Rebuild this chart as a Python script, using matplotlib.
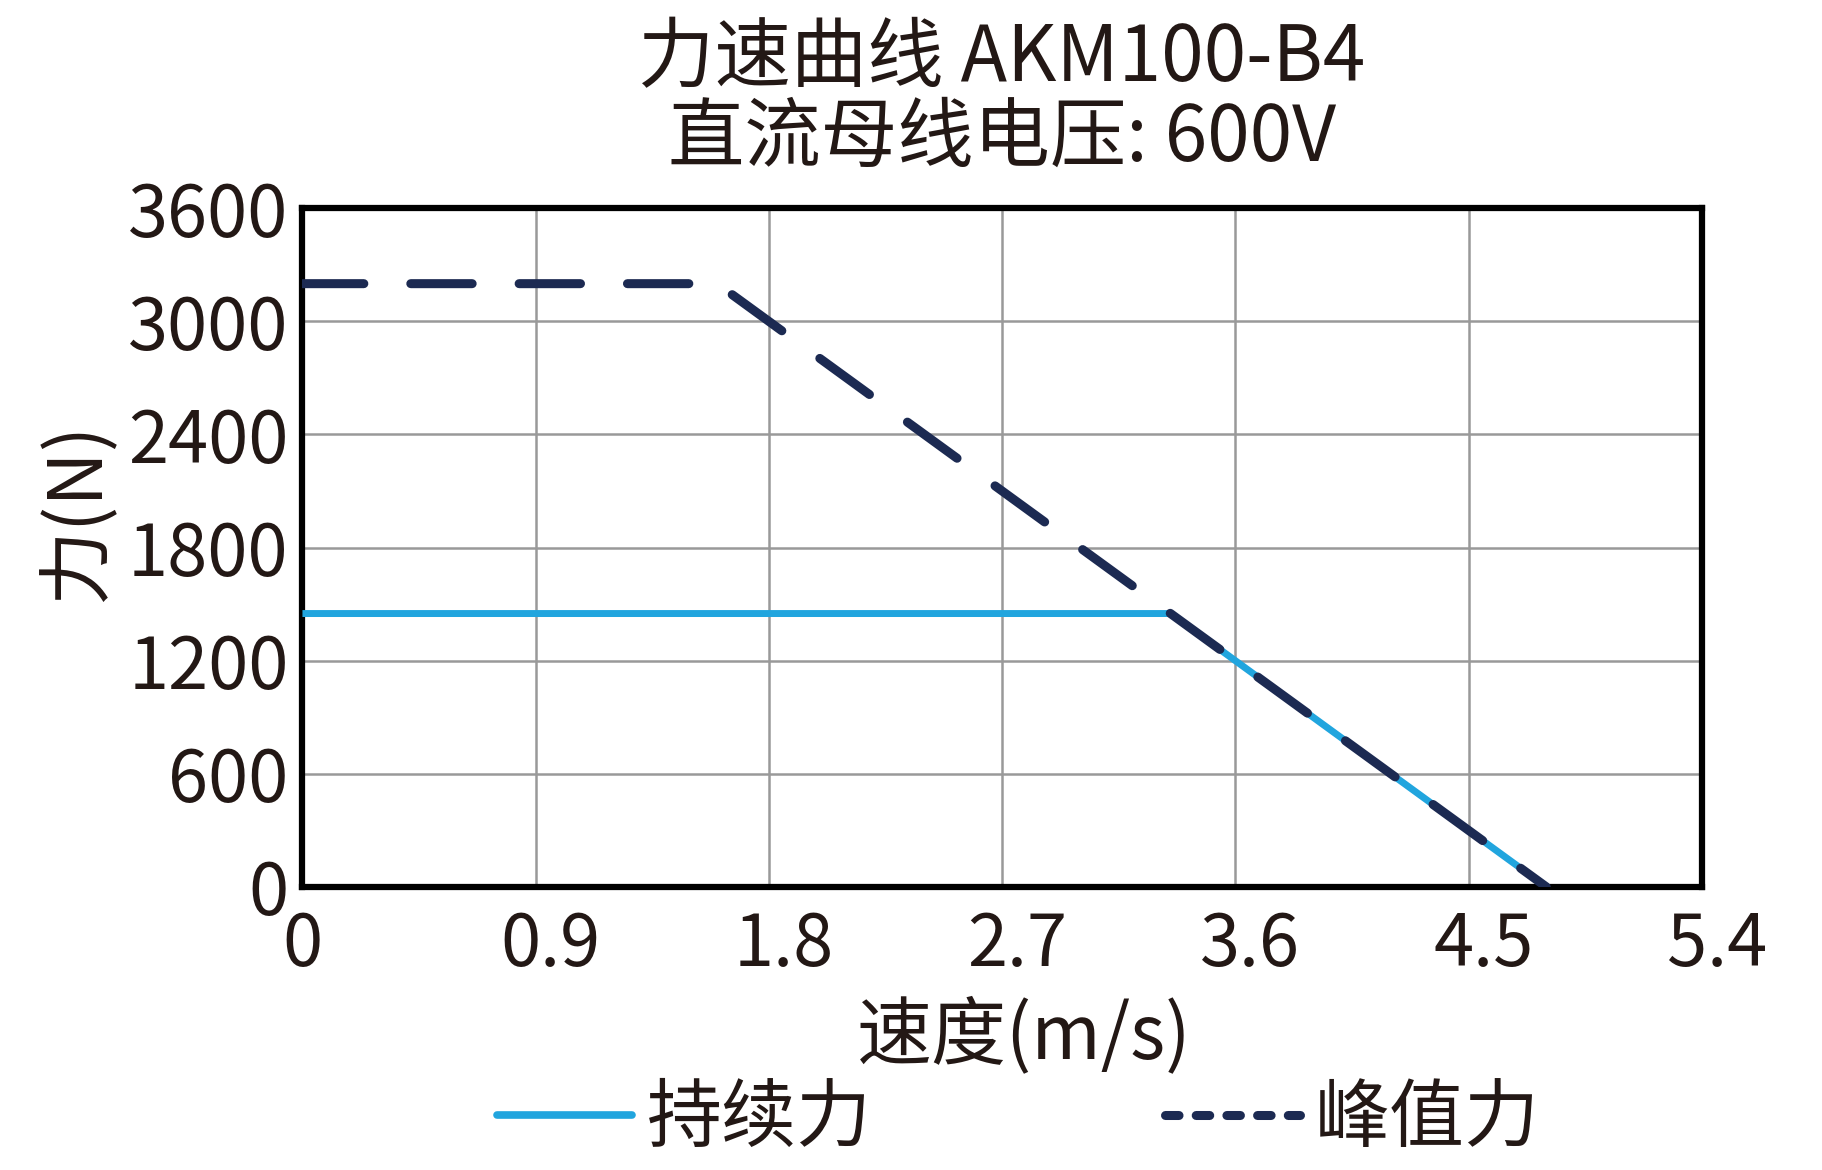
import matplotlib
matplotlib.use("Agg")
import matplotlib.pyplot as plt
import matplotlib.transforms as mtransforms
from matplotlib.lines import Line2D

plt.rcParams['font.family'] = ['Noto Sans CJK SC', 'DejaVu Sans']

# data
cont_speed = [0, 3.35, 4.8]
cont_force = [1450, 1450, 0]
peak_speed = [0, 1.6, 4.8]
peak_force = [3200, 3200, 0]

x_ticks = [0, 0.9, 1.8, 2.7, 3.6, 4.5, 5.4]
y_ticks = [0, 600, 1200, 1800, 2400, 3000, 3600]

title = "力速曲线 AKM100-B4\n直流母线电压: 600V"
cont_label = "持续力"
peak_label = "峰值力"

blue = "#21a5de"
navy = "#1c2a52"
txt = "#231815"

fig = plt.figure(figsize=(18.22, 11.70), dpi=100)
ax = fig.add_axes([0.166, 0.242, 0.768, 0.580])

ax.plot(cont_speed, cont_force, color=blue, lw=5, solid_capstyle='butt', zorder=3)
ax.plot(peak_speed, peak_force, color=navy, lw=6.5, linestyle=(0, (6.8, 5.2)),
        dash_capstyle='round', zorder=4)

ax.set_xlim(0, 5.4)
ax.set_ylim(0, 3600)
ax.set_xticks(x_ticks)
ax.set_yticks(y_ticks)
ax.set_xticklabels([f"{v:g}" for v in x_ticks])
ax.set_yticklabels([str(v) for v in y_ticks])
ax.tick_params(length=0, labelsize=52, colors=txt)
ax.tick_params(axis='x', pad=16)
ax.tick_params(axis='y', pad=10)
# labels in the reference sit a little right of their grid lines
shift = mtransforms.ScaledTranslation(0.15, 0, fig.dpi_scale_trans)
for lbl in ax.get_xticklabels()[1:]:
    lbl.set_transform(lbl.get_transform() + shift)
ax.grid(True, color="#999999", lw=1.8)
ax.set_axisbelow(True)
for s in ax.spines.values():
    s.set_linewidth(4.5)
    s.set_color("black")

ax.set_xlabel("速度(m/s)", fontsize=54, color=txt)
ax.xaxis.set_label_coords(0.516, -0.163)
ax.set_ylabel("力(N)", fontsize=54, color=txt)
ax.yaxis.set_label_coords(-0.133, 0.553)
ax.set_title(title, fontsize=55, color=txt, linespacing=1.0, pad=34)

handles = [
    Line2D([], [], color=blue, lw=5.5, solid_capstyle='round'),
    Line2D([], [], color=navy, lw=6.5, linestyle=(0, (1.5, 1.9)), dash_capstyle='round'),
]
fig.legend(handles, [cont_label, peak_label], loc='center', bbox_to_anchor=(0.559, 0.043),
           ncol=2, frameon=False, fontsize=54, handlelength=1.8, handletextpad=0.2,
           columnspacing=3.9, labelcolor=txt)

fig.savefig("out.png", dpi=100)
